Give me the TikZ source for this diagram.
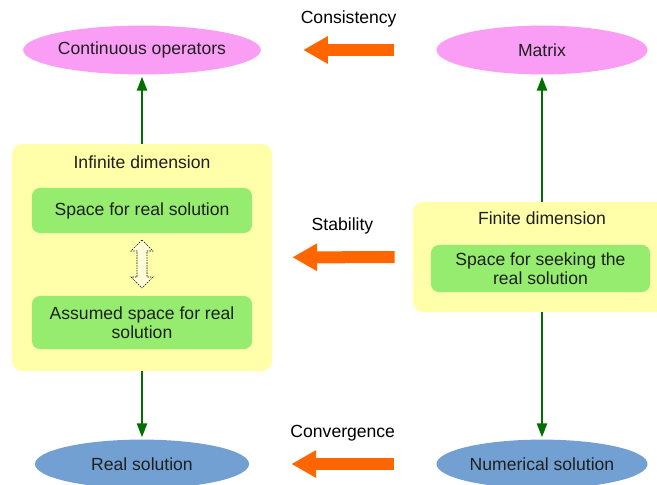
\documentclass[tikz,border=0pt]{standalone}
\usepackage{fontspec}
\setmainfont{Liberation Sans}
\usepackage{tikz}
\usetikzlibrary{arrows.meta, shapes.geometric}

\definecolor{opink}{RGB}{250,158,245}
\definecolor{oblue}{RGB}{115,160,210}
\definecolor{dimyellow}{RGB}{255,255,170}
\definecolor{spacegreen}{RGB}{150,236,110}
\definecolor{arrowgreen}{RGB}{0,110,0}
\definecolor{arroworange}{RGB}{255,102,0}

\tikzset{
	oval/.style={ellipse, minimum width=5.35cm, minimum height=1.22cm, inner sep=0pt},
	dimbox/.style={rectangle, rounded corners=0.25cm, fill=dimyellow, inner sep=0pt},
	spacebox/.style={rectangle, rounded corners=0.2cm, fill=spacegreen, minimum width=5.5cm, align=center, inner sep=0pt},
	greenarrow/.style={draw=arrowgreen, line width=0.06cm, -{Triangle[length=0.35cm,width=0.25cm]}, shorten >=0.05cm},
	bigarrow/.style={draw=arroworange, line width=0.3cm, -{Triangle[length=0.62cm,width=0.65cm]}},
	arrowlabel/.style={midway, yshift=0.77cm, text=black}
}

\begin{document}
\begin{tikzpicture}[x=0.025cm, y=-0.025cm, font=\fontsize{12.5}{13.6}\selectfont, text={black!88}]
			\useasboundingbox (0,0) rectangle (657,485);
			% the four ellipses
			\node[oval, fill=opink] (contop) at (142,50) {Continuous operators};
			\node[oval, fill=opink, minimum width=5.275cm] (matrix) at (542,50) {Matrix};
			\node[oval, fill=oblue] (realsol) at (142,464) {Real solution};
			\node[oval, fill=oblue, minimum width=5.275cm] (numsol) at (542,464) {Numerical solution};
			% dimension boxes
			\node[dimbox, minimum width=6.5cm, minimum height=5.675cm] (infinite) at (142,257.5) {};
			\node at (142,162) {Infinite dimension};
			\node[spacebox, minimum height=1.125cm] (realspace) at (142,210.5) {Space for real solution};
			\node[spacebox, minimum height=1.325cm] (assumedspace) at (142,322.5) {Assumed space for real\\solution};
			\draw[dash pattern=on 1pt off 0.8pt, line width=0.4pt, fill=white!55!dimyellow]
				(142,240) -- (153,251) -- (147,251) -- (147,277) -- (153,277) -- (142,288)
				-- (131,277) -- (137,277) -- (137,251) -- (131,251) -- cycle;
			\node[dimbox, minimum width=6.45cm, minimum height=2.75cm] (finite) at (542,257) {};
			\node at (542,218) {Finite dimension};
			\node[spacebox, minimum width=5.475cm, minimum height=1.175cm] (seekspace) at (540.5,268.5) {Space for seeking the\\real solution};
			% vertical arrows
			\draw[greenarrow] (infinite) -- (contop);
			\draw[greenarrow] (infinite) -- (realsol);
			\draw[greenarrow] (finite) -- (matrix);
			\draw[greenarrow] (finite) -- (numsol);
			% horizontal arrows
			\draw[bigarrow, shorten <=1.05cm, shorten >=1.05cm] (matrix) -- node[arrowlabel] {Consistency} (contop);
			\draw[bigarrow, shorten <=0.45cm, shorten >=0.5cm] (finite) -- node[arrowlabel] {Stability} (infinite);
			\draw[bigarrow, shorten <=1.05cm, shorten >=1.05cm] (numsol) -- node[arrowlabel] {Convergence} (realsol);
		\end{tikzpicture}
\end{document}
